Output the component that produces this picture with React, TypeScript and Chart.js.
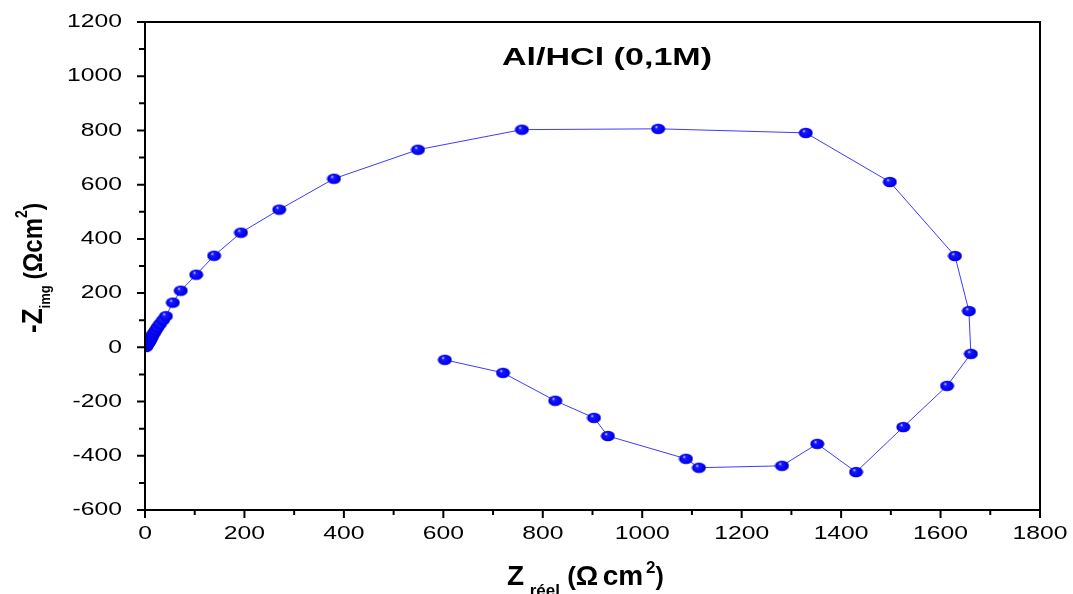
import { useEffect, useRef } from 'react';
import { Chart, registerables } from 'chart.js';
Chart.register(...registerables);

// Nyquist data: real part (Ω cm²)
const zReal = [2, 3, 5, 7, 9, 11, 13, 15, 18, 21, 25, 30, 36, 42, 56, 72, 103, 139, 193, 270, 380, 549, 758, 1032, 1329, 1498, 1629, 1657, 1661, 1613, 1525, 1430, 1352, 1281, 1114, 1088, 931, 903, 825, 720, 603];
// -Z imaginary part (Ω cm²)
const zImag = [1, 5, 10, 16, 22, 29, 36, 44, 53, 62, 73, 86, 100, 115, 165, 209, 268, 338, 423, 508, 622, 729, 803, 806, 791, 610, 337, 134, -24, -142, -294, -460, -356, -437, -444, -411, -327, -260, -197, -94, -46];

const xTickValues = [0, 200, 400, 600, 800, 1000, 1200, 1400, 1600, 1800];
const yTickValues = [-600, -400, -200, 0, 200, 400, 600, 800, 1000, 1200];
const xTickLabels = xTickValues.map(String);
const yTickLabels = yTickValues.map(String);

const titleText = 'Al/HCl (0,1M)';
const FONT = '"Liberation Sans", Arial, sans-serif';

type Seg = { t: string; size: number; dy?: number };

function drawRich(ctx: CanvasRenderingContext2D, segs: Seg[], x: number, y: number, sx: number, rot: number) {
  ctx.save();
  ctx.translate(x, y);
  ctx.scale(sx, 1);
  ctx.rotate(rot);
  ctx.fillStyle = '#000';
  ctx.textAlign = 'left';
  ctx.textBaseline = 'alphabetic';
  let cx = 0;
  for (const s of segs) {
    ctx.font = `bold ${s.size}px ${FONT}`;
    ctx.fillText(s.t, cx, s.dy || 0);
    cx += ctx.measureText(s.t).width;
  }
  ctx.restore();
}

function makeMarker(): HTMLCanvasElement {
  const c = document.createElement('canvas');
  c.width = 15;
  c.height = 12;
  const g = c.getContext('2d')!;
  const grad = g.createRadialGradient(5.5, 4, 0.3, 7.5, 6, 7.5);
  grad.addColorStop(0, '#d0d0ff');
  grad.addColorStop(0.18, '#1a1aff');
  grad.addColorStop(0.7, '#0000f0');
  grad.addColorStop(1, '#0000b8');
  g.fillStyle = grad;
  g.beginPath();
  g.ellipse(7.5, 6, 7, 5.3, 0, 0, Math.PI * 2);
  g.fill();
  return c;
}

const decorPlugin = {
  id: 'decor',
  afterDraw(chart: any) {
    const ctx: CanvasRenderingContext2D = chart.ctx;
    const { left, right, top, bottom } = chart.chartArea;
    const xs = chart.scales.x;
    const ys = chart.scales.y;
    ctx.save();
    ctx.strokeStyle = '#000';
    ctx.lineWidth = 2;
    ctx.strokeRect(left, top, right - left, bottom - top);
    ctx.beginPath();
    for (let v = 0; v <= 1800; v += 100) {
      const px = xs.getPixelForValue(v);
      const len = v % 200 === 0 ? 8 : 5;
      ctx.moveTo(px, bottom);
      ctx.lineTo(px, bottom + len);
    }
    for (let v = -600; v <= 1200; v += 100) {
      const py = ys.getPixelForValue(v);
      const len = v % 200 === 0 ? 8 : 6;
      ctx.moveTo(left, py);
      ctx.lineTo(left - len, py);
    }
    ctx.stroke();
    ctx.fillStyle = '#000';
    ctx.font = `19px ${FONT}`;
    ctx.textBaseline = 'middle';
    const st = 1.3;
    xTickValues.forEach((v, i) => {
      const px = xs.getPixelForValue(v);
      ctx.save();
      ctx.translate(px, 534);
      ctx.scale(st, 1);
      ctx.textAlign = 'center';
      ctx.fillText(xTickLabels[i], 0, 0);
      ctx.restore();
    });
    yTickValues.forEach((v, i) => {
      const py = ys.getPixelForValue(v);
      ctx.save();
      ctx.translate(122, py);
      ctx.scale(st, 1);
      ctx.textAlign = 'right';
      ctx.fillText(yTickLabels[i], 0, 0);
      ctx.restore();
    });
    ctx.save();
    ctx.translate(607, 58);
    ctx.scale(1.42, 1);
    ctx.font = `bold 24px ${FONT}`;
    ctx.textAlign = 'center';
    ctx.textBaseline = 'middle';
    ctx.fillText(titleText, 0, 0);
    ctx.restore();
    ctx.restore();

    drawRich(ctx, [
      { t: 'Z', size: 28 },
      { t: '  ', size: 10 },
      { t: 'réel', size: 17, dy: 11 },
      { t: ' (', size: 26 },
      { t: 'Ω', size: 28 },
      { t: ' ', size: 16 },
      { t: 'cm', size: 28 },
      { t: ' ', size: 10 },
      { t: '2', size: 17, dy: -12 },
      { t: ')', size: 25 },
    ], 507, 585, 1, 0);

    drawRich(ctx, [
      { t: '-Z', size: 26 },
      { t: 'img', size: 13, dy: 7 },
      { t: ' (', size: 22 },
      { t: 'Ω', size: 24 },
      { t: 'cm', size: 24 },
      { t: '2', size: 14, dy: -13 },
      { t: ')', size: 22 },
    ], 42, 333, 1.15, -Math.PI / 2);
  },
};

export default function App() {
  const ref = useRef<HTMLCanvasElement>(null);
  useEffect(() => {
    if (!ref.current) return;
    const marker = makeMarker();
    const chart = new Chart(ref.current, {
      type: 'scatter',
      data: {
        datasets: [
          {
            data: zReal.map((x, i) => ({ x, y: zImag[i] })),
            showLine: true,
            borderColor: '#3c3cff',
            borderWidth: 1,
            pointStyle: marker as any,
            pointRadius: 6,
            pointHoverRadius: 6,
          },
        ],
      },
      options: {
        responsive: false,
        animation: false,
        devicePixelRatio: 1,
        layout: { padding: { top: 22, right: 33, left: 0, bottom: 0 } },
        plugins: { legend: { display: false }, tooltip: { enabled: false }, title: { display: false } },
        scales: {
          x: {
            type: 'linear',
            min: 0,
            max: 1800,
            ticks: { display: false, stepSize: 200 },
            grid: { display: false },
            border: { display: false },
            afterFit: (s: any) => { s.height = 84; },
          },
          y: {
            type: 'linear',
            min: -600,
            max: 1200,
            ticks: { display: false, stepSize: 200 },
            grid: { display: false },
            border: { display: false },
            afterFit: (s: any) => { s.width = 145; },
          },
        },
      },
      plugins: [decorPlugin],
    });
    return () => chart.destroy();
  }, []);
  return (
    <div style={{ position: 'fixed', left: 0, top: 0, width: 1073, height: 594, background: '#fff' }}>
      <canvas ref={ref} width={1073} height={594} style={{ display: 'block' }} />
    </div>
  );
}
